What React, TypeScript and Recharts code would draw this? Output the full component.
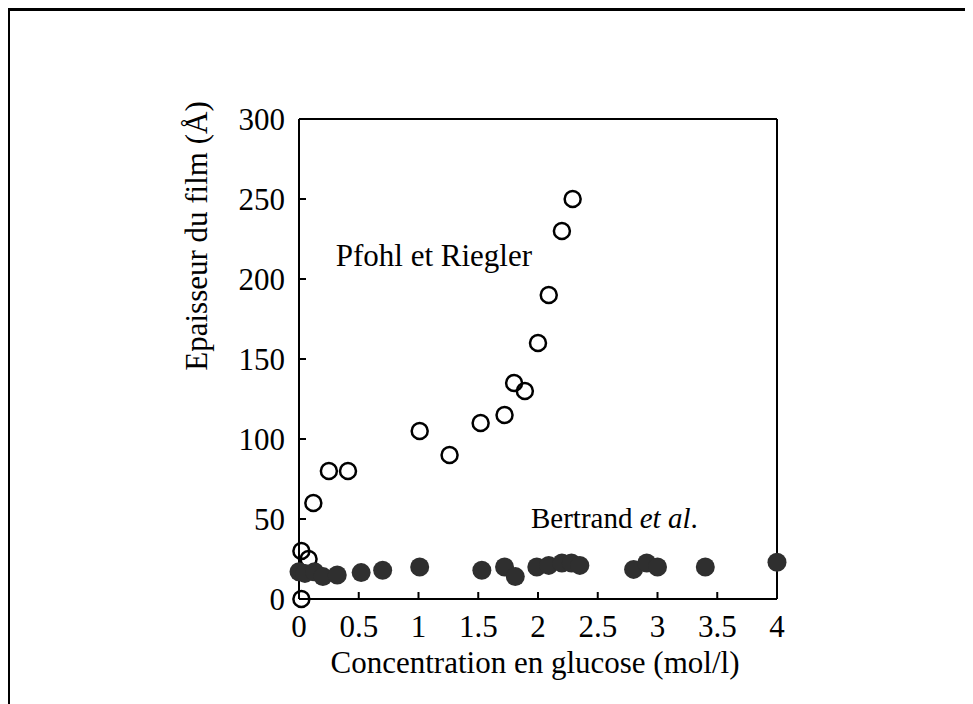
import { ScatterChart, Scatter, XAxis, YAxis, ReferenceLine } from 'recharts';

// Pfohl et Riegler (open circles)
const pfohlX = [0.02, 0.02, 0.08, 0.12, 0.25, 0.41, 1.01, 1.26, 1.52, 1.72, 1.8, 1.89, 2.0, 2.09, 2.2, 2.29];
const pfohlY = [0, 30, 25, 60, 80, 80, 105, 90, 110, 115, 135, 130, 160, 190, 230, 250];

// Bertrand et al. (filled circles)
const bertrandX = [0.0, 0.05, 0.13, 0.2, 0.32, 0.52, 0.7, 1.01, 1.53, 1.72, 1.81, 1.99, 2.09, 2.2, 2.28, 2.35, 2.8, 2.91, 3.0, 3.4, 4.0];
const bertrandY = [17, 16, 17, 14, 15, 16.5, 18, 20, 18, 20, 14, 20, 21, 22.5, 22.5, 21, 18.5, 22.5, 20, 20, 23];

const xTicks = [0, 0.5, 1, 1.5, 2, 2.5, 3, 3.5, 4];
const yTicks = [0, 50, 100, 150, 200, 250, 300];

const pfohl = pfohlX.map((x, i) => ({ x, y: pfohlY[i] }));
const bertrand = bertrandX.map((x, i) => ({ x, y: bertrandY[i] }));

const FONT = 'Liberation Serif, Times New Roman, serif';
const tickStyle = { fill: '#000', fontSize: 31, fontFamily: FONT };

const OpenDot = (p: any) => <circle cx={p.cx} cy={p.cy} r={8} fill="none" stroke="#000" strokeWidth={2.5} />;
const FilledDot = (p: any) => <circle cx={p.cx} cy={p.cy} r={9.5} fill="#2f2f2f" />;

export default function App() {
  return (
    <div style={{ position: 'relative', width: 965, height: 696, boxSizing: 'border-box', borderTop: '3px solid #000', borderLeft: '2px solid #000', background: '#fff' }}>
      <ScatterChart width={963} height={693} margin={{ top: 108, right: 196, bottom: 65, left: 229 }}>
        <XAxis
          type="number" dataKey="x" domain={[0, 4]} ticks={xTicks} height={40}
          axisLine={{ stroke: '#000', strokeWidth: 2 }} tickLine={{ stroke: '#000', strokeWidth: 2 }}
          tickSize={-7} tickMargin={23} tick={tickStyle} interval={0}
        />
        <YAxis
          type="number" dataKey="y" domain={[0, 300]} ticks={yTicks} width={60}
          axisLine={{ stroke: '#000', strokeWidth: 2 }} tickLine={{ stroke: '#000', strokeWidth: 2 }}
          tickSize={-7} tickMargin={21} tick={tickStyle} interval={0}
        />
        <ReferenceLine y={300} stroke="#000" strokeWidth={2} />
        <ReferenceLine x={4} stroke="#000" strokeWidth={2} />
        <Scatter data={pfohl} shape={OpenDot} isAnimationActive={false} />
        <Scatter data={bertrand} shape={FilledDot} isAnimationActive={false} />
        <text x={522} y={255} textAnchor="end" fontSize={31} fontFamily={FONT} fill="#000">Pfohl et Riegler</text>
        <text x={521} y={517} fontSize={29} fontFamily={FONT} fill="#000">
          Bertrand <tspan fontStyle="italic">et al</tspan>.
        </text>
        <text x={525} y={662} textAnchor="middle" fontSize={31} fontFamily={FONT} fill="#000">Concentration en glucose (mol/l)</text>
        <text x={197} y={225} textAnchor="middle" fontSize={31} fontFamily={FONT} fill="#000" transform="rotate(-90, 197, 225)">Epaisseur du film (Å)</text>
      </ScatterChart>
    </div>
  );
}
